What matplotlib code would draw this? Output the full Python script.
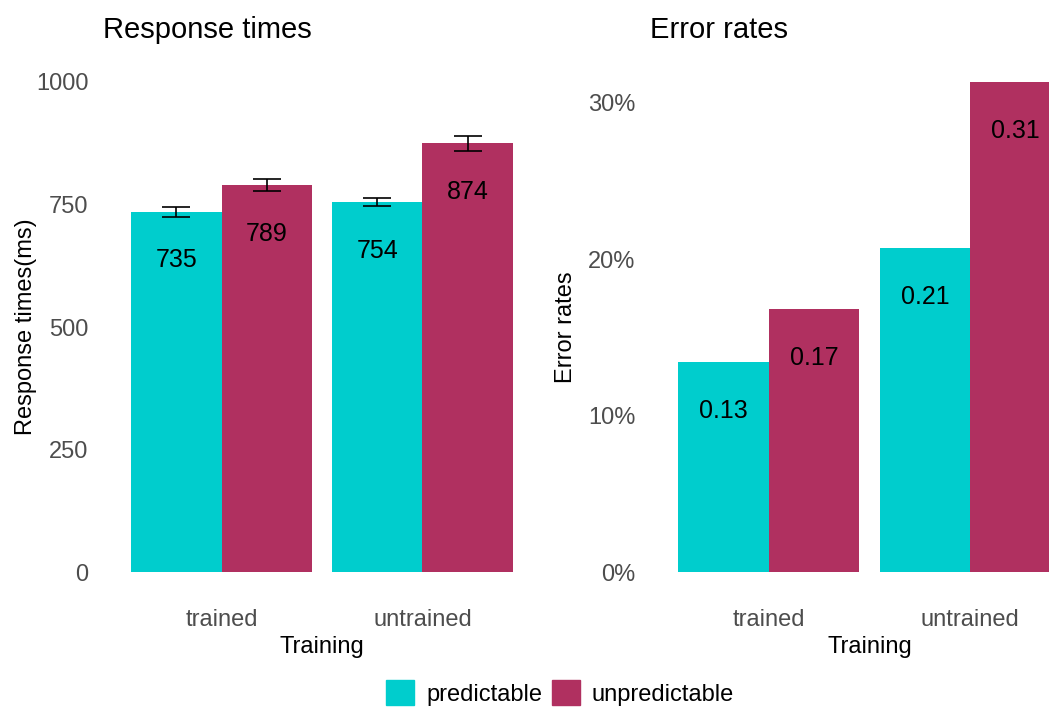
import numpy as np
import matplotlib.pyplot as plt
from matplotlib.patches import Patch
from matplotlib.ticker import FuncFormatter

plt.rcParams['font.family'] = ['Liberation Sans', 'DejaVu Sans']

# 数据
training = ['trained', 'untrained']
conditions = ['predictable', 'unpredictable']
colors = ['#00CDCD', '#B03060']

rt_pred = [735, 754]
rt_unpred = [789, 874]
rt_err_pred = [10, 8]
rt_err_unpred = [12, 16]

er_pred = [0.134, 0.207]
er_unpred = [0.168, 0.313]

tick_grey = '#4D4D4D'
W, H = 1049, 709

fig = plt.figure(figsize=(W / 100, H / 100), dpi=100)


def px_axes(x0, x1, y0, y1):
    # 像素坐标 -> figure 坐标
    return fig.add_axes([x0 / W, 1 - y1 / H, (x1 - x0) / W, (y1 - y0) / H])


def style(ax, ylabel, title, ylabelpad):
    for s in ax.spines.values():
        s.set_visible(False)
    ax.tick_params(length=0, labelsize=17, colors=tick_grey, pad=9)
    ax.set_xticks(np.arange(len(training)))
    ax.set_xticklabels(training)
    ax.set_xlim(-0.6, 1.6)
    ax.set_xlabel('Training', fontsize=17, labelpad=3)
    ax.set_ylabel(ylabel, fontsize=17, labelpad=ylabelpad)
    ax.set_title(title, fontsize=21, loc='left', x=0.005, pad=14)


def bars(ax, pred, unpred, fmt, errs=None):
    x = np.arange(len(training))
    w = 0.45
    b1 = ax.bar(x - w / 2, pred, w, color=colors[0])
    b2 = ax.bar(x + w / 2, unpred, w, color=colors[1])
    if errs is not None:
        ax.errorbar(x - w / 2, pred, yerr=errs[0], fmt='none', ecolor='black',
                    elinewidth=1.2, capsize=10, capthick=1.2)
        ax.errorbar(x + w / 2, unpred, yerr=errs[1], fmt='none', ecolor='black',
                    elinewidth=1.2, capsize=10, capthick=1.2)
    for bs, vals in ((b1, pred), (b2, unpred)):
        for b, v in zip(bs, vals):
            ax.annotate(fmt(v), xy=(b.get_x() + b.get_width() / 2, v),
                        xytext=(0, -35), textcoords='offset points',
                        ha='center', va='center', fontsize=18, color='black')


# 左图：反应时
ax1 = px_axes(101, 543, 57, 597)
bars(ax1, rt_pred, rt_unpred, lambda v: '%d' % v, (rt_err_pred, rt_err_unpred))
ax1.set_ylim(-50, 1050)
ax1.set_yticks([0, 250, 500, 750, 1000])
style(ax1, 'Response times(ms)', 'Response times', -1)

# 右图：错误率
ax2 = px_axes(648, 1091, 57, 597)
bars(ax2, er_pred, er_unpred, lambda v: '%.2f' % v)
ax2.set_ylim(-0.0157, 0.329)
ax2.set_yticks([0, 0.1, 0.2, 0.3])
ax2.yaxis.set_major_formatter(FuncFormatter(lambda v, p: '%d%%' % round(v * 100)))
style(ax2, 'Error rates', 'Error rates', 8)

# 图例
handles = [Patch(color=c, label=l) for c, l in zip(colors, conditions)]
fig.legend(handles=handles, loc='center', bbox_to_anchor=(560 / W, 1 - 693 / H),
           ncol=2, frameon=False, fontsize=17, handlelength=1.2, handleheight=1.2,
           handletextpad=0.5, columnspacing=0.4)

fig.savefig('out.png', dpi=100)
